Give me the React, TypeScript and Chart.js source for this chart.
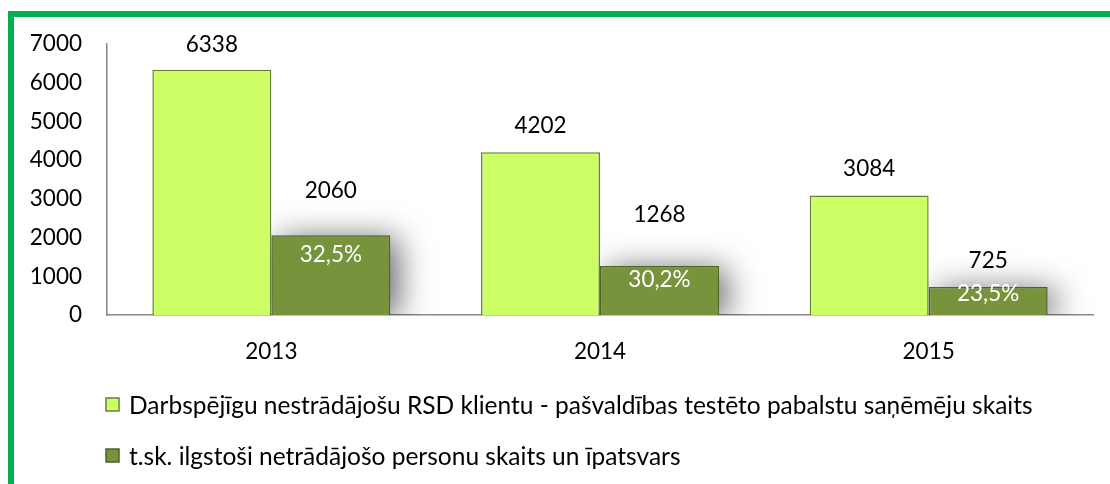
import React, { useEffect, useRef } from 'react';
import { Chart, registerables } from 'chart.js';

Chart.register(...registerables);

// ---- data ----
const categories = ['2013', '2014', '2015'];
const clientCounts = [6338, 4202, 3084];
const longTermCounts = [2060, 1268, 725];
const longTermShares = [32.5, 30.2, 23.5];
const seriesLabels = [
  'Darbspējīgu nestrādājošu RSD klientu - pašvaldības testēto pabalstu saņēmēju skaits',
  't.sk. ilgstoši netrādājošo personu skaits un īpatsvars',
];
const yMin = 0;
const yMax = 7000;
const yStep = 1000;

// ---- style ----
const FONT_FAMILY = 'Lato, "Noto Sans", sans-serif';
const FONT_SIZE = 22.5;
const LEGEND_FONT_SIZE = 24.5;
const CAP = 0.36 * FONT_SIZE; // half cap height, for visual centring
const LIGHT_FILL = '#CCFF66';
const LIGHT_BORDER = '#66803A';
const DARK_FILL = '#77933C';
const DARK_BORDER = '#4F6228';
const AXIS_COLOR = '#868686';
// label placement (px): value-label centre above bar top, per dataset / point
const valueLabelGap = [
  [26, 27, 28],
  [45, 52, 27],
];
// share label centre below the top of the dark bars
const shareLabelDrop = [19, 13, 6];

const font = { family: FONT_FAMILY, size: FONT_SIZE };

const shadowPlugin = {
  id: 'barShadow',
  beforeDatasetDraw(chart: any, args: any) {
    if (args.index !== 1) return;
    const { ctx, chartArea } = chart;
    const meta = chart.getDatasetMeta(1);
    ctx.save();
    ctx.beginPath();
    ctx.rect(chartArea.left, 0, chartArea.right - chartArea.left + 60, chartArea.bottom);
    ctx.clip();
    const OFF = 10000;
    ctx.shadowColor = 'rgba(0,0,0,0.6)';
    ctx.shadowBlur = 32;
    ctx.shadowOffsetX = OFF + 8;
    ctx.shadowOffsetY = 3;
    ctx.fillStyle = '#000';
    meta.data.forEach((bar: any) => {
      const { x, y, width, base } = bar.getProps(['x', 'y', 'width', 'base'], true);
      ctx.fillRect(x - width / 2 - OFF, y, width, base - y);
    });
    ctx.restore();
  },
};

const labelPlugin = {
  id: 'barLabels',
  afterDatasetsDraw(chart: any) {
    const { ctx } = chart;
    ctx.save();
    ctx.font = `${FONT_SIZE}px ${FONT_FAMILY}`;
    ctx.textAlign = 'center';
    ctx.textBaseline = 'alphabetic';
    chart.data.datasets.forEach((ds: any, d: number) => {
      const meta = chart.getDatasetMeta(d);
      meta.data.forEach((bar: any, i: number) => {
        const { x, y } = bar.getProps(['x', 'y'], true);
        ctx.fillStyle = '#000';
        ctx.fillText(String(ds.data[i]), x, y - valueLabelGap[d][i] + CAP);
        if (d === 1) {
          ctx.fillStyle = '#FFFFFF';
          const txt = longTermShares[i].toFixed(1).replace('.', ',') + '%';
          ctx.fillText(txt, x, y + shareLabelDrop[i] + CAP);
        }
      });
    });
    ctx.restore();
  },
};

const legendPlugin = {
  id: 'customLegend',
  afterDraw(chart: any) {
    const { ctx } = chart;
    const rows = [405, 456];
    ctx.save();
    ctx.font = `${LEGEND_FONT_SIZE}px ${FONT_FAMILY}`;
    ctx.textAlign = 'left';
    ctx.textBaseline = 'alphabetic';
    chart.data.datasets.forEach((ds: any, d: number) => {
      const cy = rows[d];
      ctx.fillStyle = ds.backgroundColor;
      ctx.fillRect(106, cy - 7, 13, 13);
      ctx.strokeStyle = ds.borderColor;
      ctx.lineWidth = 1.5;
      ctx.strokeRect(106, cy - 7, 13, 13);
      ctx.fillStyle = '#000';
      ctx.fillText(ds.label, 129, cy + 0.36 * LEGEND_FONT_SIZE);
    });
    ctx.restore();
  },
};

export default function App() {
  const canvasRef = useRef<HTMLCanvasElement>(null);

  useEffect(() => {
    document.body.style.margin = '0';
    const canvas = canvasRef.current;
    if (!canvas) return;
    const chart = new Chart(canvas, {
      type: 'bar',
      data: {
        labels: categories,
        datasets: [
          {
            label: seriesLabels[0],
            data: clientCounts,
            backgroundColor: LIGHT_FILL,
            borderColor: LIGHT_BORDER,
            borderWidth: 1.5,
            barPercentage: 1,
            categoryPercentage: 0.724,
          },
          {
            label: seriesLabels[1],
            data: longTermCounts,
            backgroundColor: DARK_FILL,
            borderColor: DARK_BORDER,
            borderWidth: 1.5,
            barPercentage: 1,
            categoryPercentage: 0.724,
          },
        ],
      },
      options: {
        animation: false,
        responsive: false,
        devicePixelRatio: 1,
        layout: { padding: { top: 44, right: 17, left: 0, bottom: 0 } },
        plugins: {
          legend: { display: false },
          tooltip: { enabled: false },
        },
        scales: {
          x: {
            grid: { display: false, drawTicks: false },
            border: { display: true, color: AXIS_COLOR, width: 1.5 },
            ticks: { color: '#000', font, padding: 23 },
            afterFit: (s: any) => {
              s.height = 484 - 315;
            },
          },
          y: {
            min: yMin,
            max: yMax,
            grid: { display: false, drawTicks: false },
            border: { display: true, color: AXIS_COLOR, width: 1.5 },
            ticks: {
              stepSize: yStep,
              color: '#000',
              font,
              padding: 25,
              callback: (v: any) => String(v),
            },
            afterFit: (s: any) => {
              s.width = 107;
            },
          },
        },
      },
      plugins: [shadowPlugin, labelPlugin, legendPlugin],
    });
    return () => chart.destroy();
  }, []);

  return (
    <div style={{ position: 'relative', width: 1110, height: 484, overflow: 'hidden', background: '#fff' }}>
      <div
        style={{
          position: 'absolute',
          left: 8,
          top: 11,
          width: 1300,
          height: 700,
          border: '6px solid #00B050',
          boxSizing: 'border-box',
        }}
      />
      <canvas
        ref={canvasRef}
        width={1110}
        height={484}
        style={{ position: 'absolute', left: 0, top: 0, width: 1110, height: 484 }}
      />
    </div>
  );
}
